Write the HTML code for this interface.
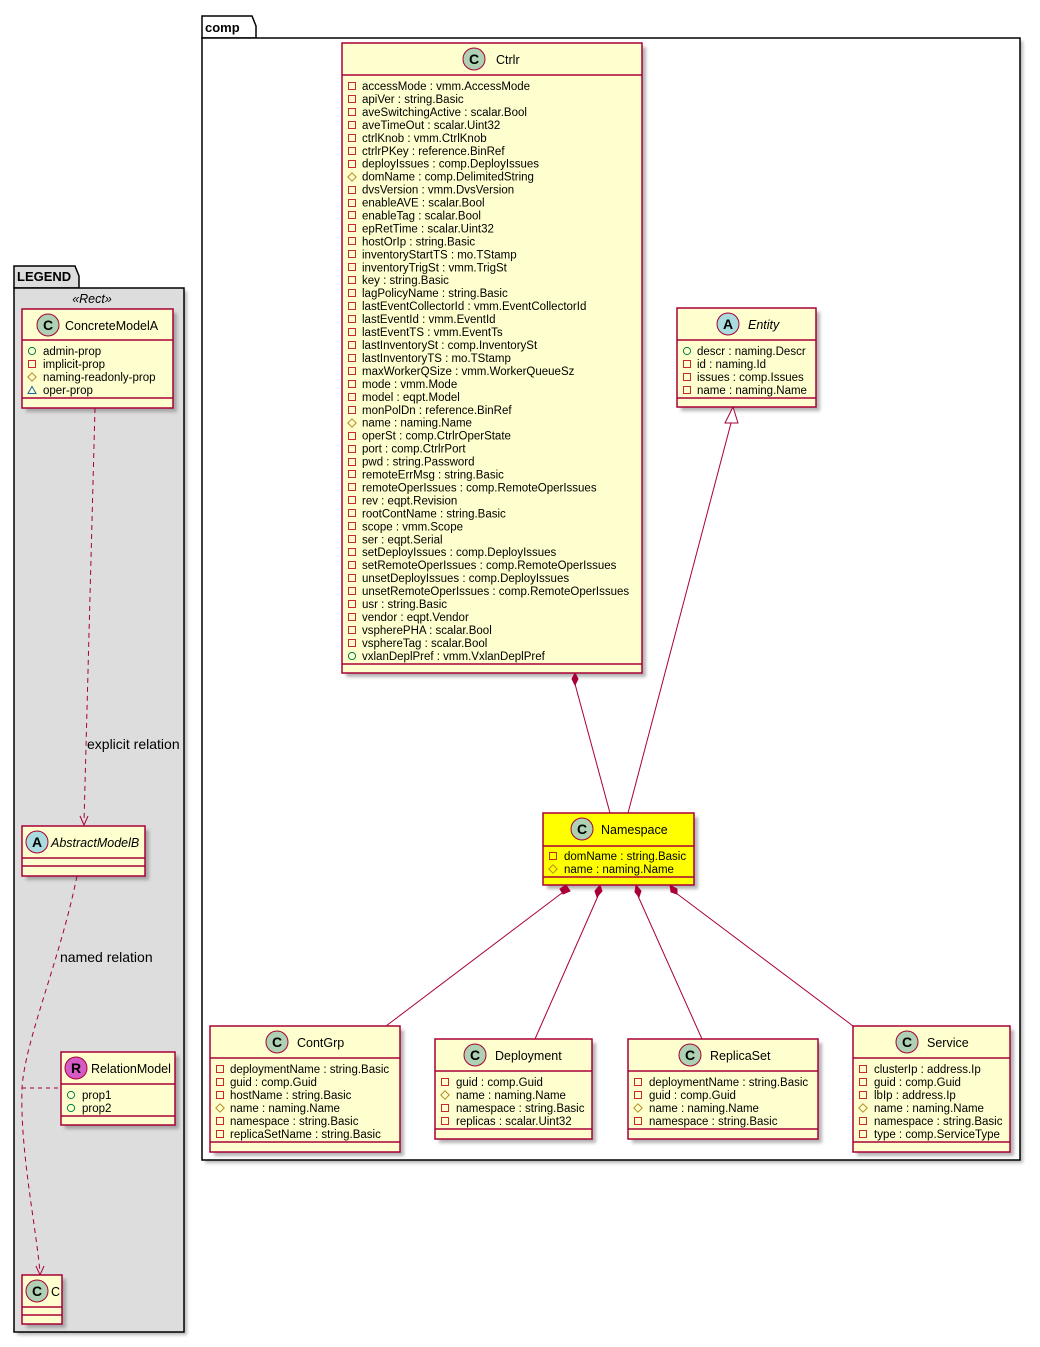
<!DOCTYPE html>
<html><head><meta charset="utf-8"><style>
html,body{margin:0;padding:0;background:#fff}
svg text{font-family:"Liberation Sans","DejaVu Sans",sans-serif;fill:#000}
.f{font-size:11.5px}
.n{font-size:12.5px}
.l{font-size:14px}
</style></head><body>
<svg width="1040" height="1342" viewBox="0 0 1040 1342" xmlns="http://www.w3.org/2000/svg">
<defs>
<filter id="sh" x="-10%" y="-10%" width="130%" height="130%"><feGaussianBlur stdDeviation="1.5"/></filter>
<symbol id="pv" viewBox="0 0 10 10" width="10" height="10"><rect x="1.5" y="1.5" width="7" height="7" fill="none" stroke="#C82930" stroke-width="1"/></symbol>
<symbol id="pt" viewBox="0 0 10 10" width="10" height="10"><polygon points="5,0.8 9.2,5 5,9.2 0.8,5" fill="none" stroke="#B38D22" stroke-width="1"/></symbol>
<symbol id="pb" viewBox="0 0 10 10" width="10" height="10"><circle cx="5" cy="5" r="3.6" fill="none" stroke="#038048" stroke-width="1"/></symbol>
<symbol id="pk" viewBox="0 0 10 10" width="10" height="10"><polygon points="5,1.5 9,8.5 1,8.5" fill="none" stroke="#1963A0" stroke-width="1"/></symbol>
</defs>

<rect x="17" y="291" width="170" height="1044" fill="#888" filter="url(#sh)" opacity="0.6"/>
<polygon points="14,266 75,266 79,276 79,288 14,288" fill="#dddddd" stroke="#000" stroke-width="1.5"/>
<rect x="14" y="288" width="170" height="1044" fill="#dddddd" stroke="#000" stroke-width="1.5"/>
<text x="17" y="281" style="font-size:13px;font-weight:bold">LEGEND</text>
<text x="92" y="303" text-anchor="middle" style="font-size:12.5px;font-style:italic">«Rect»</text>

<rect x="205" y="41" width="818" height="1122" fill="#888" filter="url(#sh)" opacity="0.6"/>
<polygon points="202,16 252,16 256,26 256,38 202,38" fill="#fff" stroke="#000" stroke-width="1.5"/>
<rect x="202" y="38" width="818" height="1122" fill="#fff" stroke="#000" stroke-width="1.5"/>
<text x="205" y="32" style="font-size:13px;font-weight:bold">comp</text>

<g fill="#777" filter="url(#sh)" opacity="0.55">
<rect x="346" y="47" width="300" height="630"/>
<rect x="681" y="312" width="139" height="99"/>
<rect x="547" y="817" width="151" height="72"/>
<rect x="214" y="1030" width="190" height="126"/>
<rect x="439" y="1043" width="157" height="100"/>
<rect x="632" y="1043" width="190" height="100"/>
<rect x="857" y="1030" width="157" height="126"/>
<rect x="26" y="313" width="151" height="99"/>
<rect x="26" y="830" width="123" height="50"/>
<rect x="65" y="1056" width="114" height="73"/>
<rect x="26" y="1279" width="40" height="49"/>
</g>

<g stroke="#A80036" stroke-width="1" fill="none">
<line x1="575" y1="684" x2="610" y2="813"/>
<line x1="731" y1="423" x2="628" y2="813"/>
<line x1="562" y1="893" x2="386" y2="1026"/>
<line x1="598" y1="896" x2="535" y2="1039"/>
<line x1="638" y1="896" x2="702" y2="1039"/>
<line x1="676" y1="893" x2="853" y2="1026"/>
<path d="M95,408 L84,822" stroke-dasharray="5,4"/>
<path d="M77,876 C60,960 25,1040 22,1088 C20,1150 35,1220 40,1272" stroke-dasharray="5,4"/>
<line x1="22" y1="1088" x2="61" y2="1088" stroke-dasharray="4,4"/>
</g>
<g fill="#A80036" stroke="#A80036">
<polygon points="575,673 578,679 575,685 572,679"/>
<polygon points="566,885 570,891 563,894 560,889"/>
<polygon points="600,885 602,891 597,897 595,891"/>
<polygon points="636,885 641,891 639,897 635,892"/>
<polygon points="670,885 677,889 677,894 671,892"/>
</g>
<polygon points="733,407 738,423 725,423" fill="#fff" stroke="#A80036"/>
<path d="M80,816 L84,825 L88,816" fill="none" stroke="#A80036"/>
<path d="M36,1266 L40,1275 L44,1266" fill="none" stroke="#A80036"/>
<text x="87" y="749" class="l">explicit relation</text>
<text x="60" y="962" class="l">named relation</text>

<rect x="342" y="43" width="300" height="630" fill="#FEFECE" stroke="#A80036" stroke-width="1.5"/>
<line x1="342" y1="75" x2="642" y2="75" stroke="#A80036" stroke-width="1.5"/>
<line x1="342" y1="664" x2="642" y2="664" stroke="#A80036" stroke-width="1.5"/>
<circle cx="474" cy="59" r="11" fill="#ADD1B2" stroke="#A80036"/>
<text x="474" y="64" text-anchor="middle" style="font-size:14px;font-weight:bold">C</text>
<text x="496" y="64" class="n">Ctrlr</text>
<g transform="translate(347,81)">
<use href="#pv" y="0"/><use href="#pv" y="13"/><use href="#pv" y="26"/><use href="#pv" y="39"/><use href="#pv" y="52"/><use href="#pv" y="65"/><use href="#pv" y="78"/><use href="#pt" y="91"/><use href="#pv" y="104"/><use href="#pv" y="117"/><use href="#pv" y="129"/><use href="#pv" y="142"/><use href="#pv" y="155"/><use href="#pv" y="168"/><use href="#pv" y="181"/><use href="#pv" y="194"/><use href="#pv" y="207"/><use href="#pv" y="220"/><use href="#pv" y="233"/><use href="#pv" y="246"/><use href="#pv" y="259"/><use href="#pv" y="272"/><use href="#pv" y="285"/><use href="#pv" y="298"/><use href="#pv" y="311"/><use href="#pv" y="324"/><use href="#pt" y="337"/><use href="#pv" y="350"/><use href="#pv" y="363"/><use href="#pv" y="376"/><use href="#pv" y="388"/><use href="#pv" y="401"/><use href="#pv" y="414"/><use href="#pv" y="427"/><use href="#pv" y="440"/><use href="#pv" y="453"/><use href="#pv" y="466"/><use href="#pv" y="479"/><use href="#pv" y="492"/><use href="#pv" y="505"/><use href="#pv" y="518"/><use href="#pv" y="531"/><use href="#pv" y="544"/><use href="#pv" y="557"/><use href="#pb" y="570"/>
</g>
<text class="f" x="362" y="90">accessMode : vmm.AccessMode<tspan x="362" dy="12.95">apiVer : string.Basic</tspan><tspan x="362" dy="12.95">aveSwitchingActive : scalar.Bool</tspan><tspan x="362" dy="12.95">aveTimeOut : scalar.Uint32</tspan><tspan x="362" dy="12.95">ctrlKnob : vmm.CtrlKnob</tspan><tspan x="362" dy="12.95">ctrlrPKey : reference.BinRef</tspan><tspan x="362" dy="12.95">deployIssues : comp.DeployIssues</tspan><tspan x="362" dy="12.95">domName : comp.DelimitedString</tspan><tspan x="362" dy="12.95">dvsVersion : vmm.DvsVersion</tspan><tspan x="362" dy="12.95">enableAVE : scalar.Bool</tspan><tspan x="362" dy="12.95">enableTag : scalar.Bool</tspan><tspan x="362" dy="12.95">epRetTime : scalar.Uint32</tspan><tspan x="362" dy="12.95">hostOrIp : string.Basic</tspan><tspan x="362" dy="12.95">inventoryStartTS : mo.TStamp</tspan><tspan x="362" dy="12.95">inventoryTrigSt : vmm.TrigSt</tspan><tspan x="362" dy="12.95">key : string.Basic</tspan><tspan x="362" dy="12.95">lagPolicyName : string.Basic</tspan><tspan x="362" dy="12.95">lastEventCollectorId : vmm.EventCollectorId</tspan><tspan x="362" dy="12.95">lastEventId : vmm.EventId</tspan><tspan x="362" dy="12.95">lastEventTS : vmm.EventTs</tspan><tspan x="362" dy="12.95">lastInventorySt : comp.InventorySt</tspan><tspan x="362" dy="12.95">lastInventoryTS : mo.TStamp</tspan><tspan x="362" dy="12.95">maxWorkerQSize : vmm.WorkerQueueSz</tspan><tspan x="362" dy="12.95">mode : vmm.Mode</tspan><tspan x="362" dy="12.95">model : eqpt.Model</tspan><tspan x="362" dy="12.95">monPolDn : reference.BinRef</tspan><tspan x="362" dy="12.95">name : naming.Name</tspan><tspan x="362" dy="12.95">operSt : comp.CtrlrOperState</tspan><tspan x="362" dy="12.95">port : comp.CtrlrPort</tspan><tspan x="362" dy="12.95">pwd : string.Password</tspan><tspan x="362" dy="12.95">remoteErrMsg : string.Basic</tspan><tspan x="362" dy="12.95">remoteOperIssues : comp.RemoteOperIssues</tspan><tspan x="362" dy="12.95">rev : eqpt.Revision</tspan><tspan x="362" dy="12.95">rootContName : string.Basic</tspan><tspan x="362" dy="12.95">scope : vmm.Scope</tspan><tspan x="362" dy="12.95">ser : eqpt.Serial</tspan><tspan x="362" dy="12.95">setDeployIssues : comp.DeployIssues</tspan><tspan x="362" dy="12.95">setRemoteOperIssues : comp.RemoteOperIssues</tspan><tspan x="362" dy="12.95">unsetDeployIssues : comp.DeployIssues</tspan><tspan x="362" dy="12.95">unsetRemoteOperIssues : comp.RemoteOperIssues</tspan><tspan x="362" dy="12.95">usr : string.Basic</tspan><tspan x="362" dy="12.95">vendor : eqpt.Vendor</tspan><tspan x="362" dy="12.95">vspherePHA : scalar.Bool</tspan><tspan x="362" dy="12.95">vsphereTag : scalar.Bool</tspan><tspan x="362" dy="12.95">vxlanDeplPref : vmm.VxlanDeplPref</tspan></text>

<rect x="677" y="308" width="139" height="99" fill="#FEFECE" stroke="#A80036" stroke-width="1.5"/>
<line x1="677" y1="340" x2="816" y2="340" stroke="#A80036" stroke-width="1.5"/>
<line x1="677" y1="398" x2="816" y2="398" stroke="#A80036" stroke-width="1.5"/>
<circle cx="728" cy="324" r="11" fill="#A9DCDF" stroke="#A80036"/>
<text x="728" y="329" text-anchor="middle" style="font-size:14px;font-weight:bold">A</text>
<text x="748" y="329" class="n" style="font-style:italic">Entity</text>
<use href="#pb" x="682" y="346"/><use href="#pv" x="682" y="359"/><use href="#pv" x="682" y="372"/><use href="#pv" x="682" y="385"/>
<text class="f" x="697" y="355">descr : naming.Descr<tspan x="697" dy="13">id : naming.Id</tspan><tspan x="697" dy="13">issues : comp.Issues</tspan><tspan x="697" dy="13">name : naming.Name</tspan></text>

<rect x="543" y="813" width="151" height="72" fill="#FFFF00" stroke="#A80036" stroke-width="1.5"/>
<line x1="543" y1="846" x2="694" y2="846" stroke="#A80036" stroke-width="1.5"/>
<line x1="543" y1="877" x2="694" y2="877" stroke="#A80036" stroke-width="1.5"/>
<circle cx="582" cy="829" r="11" fill="#ADD1B2" stroke="#A80036"/>
<text x="582" y="834" text-anchor="middle" style="font-size:14px;font-weight:bold">C</text>
<text x="601" y="834" class="n">Namespace</text>
<use href="#pv" x="548" y="851"/><use href="#pt" x="548" y="864"/>
<text class="f" x="564" y="860">domName : string.Basic<tspan x="564" dy="13">name : naming.Name</tspan></text>

<rect x="210" y="1026" width="190" height="126" fill="#FEFECE" stroke="#A80036" stroke-width="1.5"/>
<line x1="210" y1="1058" x2="400" y2="1058" stroke="#A80036" stroke-width="1.5"/>
<line x1="210" y1="1142" x2="400" y2="1142" stroke="#A80036" stroke-width="1.5"/>
<circle cx="277" cy="1042" r="11" fill="#ADD1B2" stroke="#A80036"/>
<text x="277" y="1047" text-anchor="middle" style="font-size:14px;font-weight:bold">C</text>
<text x="297" y="1047" class="n">ContGrp</text>
<use href="#pv" x="215" y="1064"/><use href="#pv" x="215" y="1077"/><use href="#pv" x="215" y="1090"/><use href="#pt" x="215" y="1103"/><use href="#pv" x="215" y="1116"/><use href="#pv" x="215" y="1129"/>
<text class="f" x="230" y="1073">deploymentName : string.Basic<tspan x="230" dy="13">guid : comp.Guid</tspan><tspan x="230" dy="13">hostName : string.Basic</tspan><tspan x="230" dy="13">name : naming.Name</tspan><tspan x="230" dy="13">namespace : string.Basic</tspan><tspan x="230" dy="13">replicaSetName : string.Basic</tspan></text>

<rect x="435" y="1039" width="157" height="100" fill="#FEFECE" stroke="#A80036" stroke-width="1.5"/>
<line x1="435" y1="1071" x2="592" y2="1071" stroke="#A80036" stroke-width="1.5"/>
<line x1="435" y1="1129" x2="592" y2="1129" stroke="#A80036" stroke-width="1.5"/>
<circle cx="475" cy="1055" r="11" fill="#ADD1B2" stroke="#A80036"/>
<text x="475" y="1060" text-anchor="middle" style="font-size:14px;font-weight:bold">C</text>
<text x="495" y="1060" class="n">Deployment</text>
<use href="#pv" x="440" y="1077"/><use href="#pt" x="440" y="1090"/><use href="#pv" x="440" y="1103"/><use href="#pv" x="440" y="1116"/>
<text class="f" x="456" y="1086">guid : comp.Guid<tspan x="456" dy="13">name : naming.Name</tspan><tspan x="456" dy="13">namespace : string.Basic</tspan><tspan x="456" dy="13">replicas : scalar.Uint32</tspan></text>

<rect x="628" y="1039" width="190" height="100" fill="#FEFECE" stroke="#A80036" stroke-width="1.5"/>
<line x1="628" y1="1071" x2="818" y2="1071" stroke="#A80036" stroke-width="1.5"/>
<line x1="628" y1="1129" x2="818" y2="1129" stroke="#A80036" stroke-width="1.5"/>
<circle cx="690" cy="1055" r="11" fill="#ADD1B2" stroke="#A80036"/>
<text x="690" y="1060" text-anchor="middle" style="font-size:14px;font-weight:bold">C</text>
<text x="710" y="1060" class="n">ReplicaSet</text>
<use href="#pv" x="633" y="1077"/><use href="#pv" x="633" y="1090"/><use href="#pt" x="633" y="1103"/><use href="#pv" x="633" y="1116"/>
<text class="f" x="649" y="1086">deploymentName : string.Basic<tspan x="649" dy="13">guid : comp.Guid</tspan><tspan x="649" dy="13">name : naming.Name</tspan><tspan x="649" dy="13">namespace : string.Basic</tspan></text>

<rect x="853" y="1026" width="157" height="126" fill="#FEFECE" stroke="#A80036" stroke-width="1.5"/>
<line x1="853" y1="1058" x2="1010" y2="1058" stroke="#A80036" stroke-width="1.5"/>
<line x1="853" y1="1142" x2="1010" y2="1142" stroke="#A80036" stroke-width="1.5"/>
<circle cx="907" cy="1042" r="11" fill="#ADD1B2" stroke="#A80036"/>
<text x="907" y="1047" text-anchor="middle" style="font-size:14px;font-weight:bold">C</text>
<text x="927" y="1047" class="n">Service</text>
<use href="#pv" x="858" y="1064"/><use href="#pv" x="858" y="1077"/><use href="#pv" x="858" y="1090"/><use href="#pt" x="858" y="1103"/><use href="#pv" x="858" y="1116"/><use href="#pv" x="858" y="1129"/>
<text class="f" x="874" y="1073">clusterIp : address.Ip<tspan x="874" dy="13">guid : comp.Guid</tspan><tspan x="874" dy="13">lbIp : address.Ip</tspan><tspan x="874" dy="13">name : naming.Name</tspan><tspan x="874" dy="13">namespace : string.Basic</tspan><tspan x="874" dy="13">type : comp.ServiceType</tspan></text>

<rect x="22" y="309" width="151" height="99" fill="#FEFECE" stroke="#A80036" stroke-width="1.5"/>
<line x1="22" y1="340" x2="173" y2="340" stroke="#A80036" stroke-width="1.5"/>
<line x1="22" y1="398" x2="173" y2="398" stroke="#A80036" stroke-width="1.5"/>
<circle cx="48" cy="325" r="11" fill="#ADD1B2" stroke="#A80036"/>
<text x="48" y="330" text-anchor="middle" style="font-size:14px;font-weight:bold">C</text>
<text x="65" y="330" class="n">ConcreteModelA</text>
<use href="#pb" x="27" y="346"/><use href="#pv" x="27" y="359"/><use href="#pt" x="27" y="372"/><use href="#pk" x="27" y="385"/>
<text class="f" x="43" y="355">admin-prop<tspan x="43" dy="13">implicit-prop</tspan><tspan x="43" dy="13">naming-readonly-prop</tspan><tspan x="43" dy="13">oper-prop</tspan></text>

<rect x="22" y="826" width="123" height="50" fill="#FEFECE" stroke="#A80036" stroke-width="1.5"/>
<line x1="22" y1="858" x2="145" y2="858" stroke="#A80036" stroke-width="1.5"/>
<line x1="22" y1="866" x2="145" y2="866" stroke="#A80036" stroke-width="1.5"/>
<circle cx="37" cy="842" r="11" fill="#A9DCDF" stroke="#A80036"/>
<text x="37" y="847" text-anchor="middle" style="font-size:14px;font-weight:bold">A</text>
<text x="51" y="847" class="n" style="font-style:italic">AbstractModelB</text>

<rect x="61" y="1052" width="114" height="73" fill="#FEFECE" stroke="#A80036" stroke-width="1.5"/>
<line x1="61" y1="1084" x2="175" y2="1084" stroke="#A80036" stroke-width="1.5"/>
<line x1="61" y1="1116" x2="175" y2="1116" stroke="#A80036" stroke-width="1.5"/>
<circle cx="76" cy="1068" r="11" fill="#D45BC5" stroke="#A80036"/>
<text x="76" y="1073" text-anchor="middle" style="font-size:14px;font-weight:bold">R</text>
<text x="91" y="1073" class="n">RelationModel</text>
<use href="#pb" x="66" y="1090"/><use href="#pb" x="66" y="1103"/>
<text class="f" x="82" y="1099">prop1<tspan x="82" dy="13">prop2</tspan></text>

<rect x="22" y="1275" width="40" height="49" fill="#FEFECE" stroke="#A80036" stroke-width="1.5"/>
<line x1="22" y1="1307" x2="62" y2="1307" stroke="#A80036" stroke-width="1.5"/>
<line x1="22" y1="1315" x2="62" y2="1315" stroke="#A80036" stroke-width="1.5"/>
<circle cx="37" cy="1291" r="11" fill="#ADD1B2" stroke="#A80036"/>
<text x="37" y="1296" text-anchor="middle" style="font-size:14px;font-weight:bold">C</text>
<text x="51" y="1296" class="n">C</text>
</svg>
</body></html>
